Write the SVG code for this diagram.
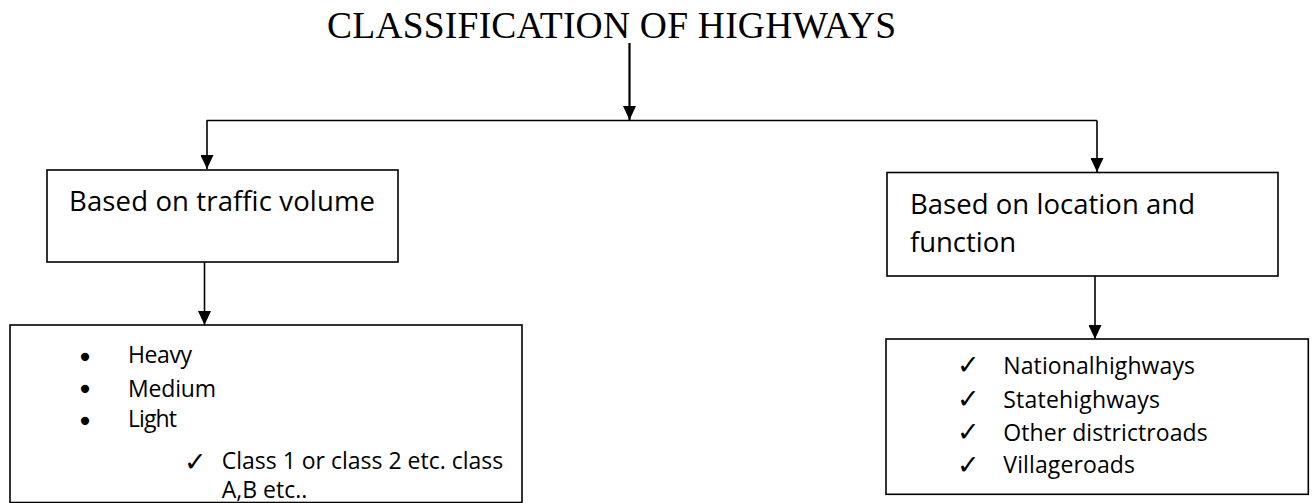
<svg xmlns="http://www.w3.org/2000/svg" width="1315" height="503" viewBox="0 0 1315 503">
<style>
.box{fill:#fff;stroke:#000;stroke-width:1.6}
.conn{fill:none;stroke:#000;stroke-width:1.6}
.title{font-family:"Liberation Serif","Times New Roman",serif;font-size:37.5px;fill:#000}
.head{font-family:"Open Sans","Noto Sans",sans-serif;font-size:27.5px;fill:#000}
.item{font-family:"Open Sans","Noto Sans",sans-serif;font-size:23px;fill:#000}
.chk{font-family:"DejaVu Sans",sans-serif;font-size:27px;fill:#000}
.bul{font-family:"DejaVu Sans",sans-serif;font-size:28px;fill:#000;text-anchor:middle}
</style>
<defs>
<marker id="ah" viewBox="0 0 15 14" refX="15" refY="7" markerWidth="15" markerHeight="13" markerUnits="userSpaceOnUse" orient="auto">
<path d="M0,0 L15,7 L0,14 z" fill="#000"/>
</marker>
</defs>
<rect width="1315" height="503" fill="#fff"/>
<g id="title">
<text class="title" x="327" y="38" textLength="569">CLASSIFICATION OF HIGHWAYS</text>
</g>
<g id="connectors">
<line class="conn" x1="629.5" y1="43" x2="629.5" y2="120" style="stroke-width:2.2" marker-end="url(#ah)"/>
<line class="conn" x1="206.5" y1="120.5" x2="1097" y2="120.5"/>
<line class="conn" x1="207" y1="120.5" x2="207" y2="169" marker-end="url(#ah)"/>
<line class="conn" x1="1097" y1="120.5" x2="1097" y2="172" marker-end="url(#ah)"/>
<line class="conn" x1="204.5" y1="262" x2="204.5" y2="325" marker-end="url(#ah)"/>
<line class="conn" x1="1095" y1="276" x2="1095" y2="339" marker-end="url(#ah)"/>
</g>
<g id="traffic">
<rect class="box" x="47" y="170" width="351" height="92"/>
<text class="head" x="69" y="210.7" textLength="306">Based on traffic volume</text>
</g>
<g id="location">
<rect class="box" x="887" y="172.5" width="391" height="103.5"/>
<text class="head" x="910" y="214" textLength="285">Based on location and</text>
<text class="head" x="910" y="251.7" textLength="106">function</text>
</g>
<g id="traffic-list">
<rect class="box" x="10" y="325" width="512" height="177.5"/>
<text class="bul" x="85" y="367">•</text>
<text class="bul" x="85" y="399">•</text>
<text class="bul" x="85" y="431">•</text>
<text class="item" x="128" y="363.3" textLength="64">Heavy</text>
<text class="item" x="128" y="397" textLength="88">Medium</text>
<text class="item" x="128" y="427.3" textLength="49">Light</text>
<text class="chk" x="184" y="471">✓</text>
<text class="item"><tspan x="221.7" y="468.5">Class 1 or class 2 etc. class</tspan><tspan x="221.7" y="497.5">A,B etc..</tspan></text>
</g>
<g id="location-list">
<rect class="box" x="886" y="339" width="422.3" height="155.3"/>
<text class="chk" x="957" y="374">✓</text>
<text class="chk" x="957" y="407.5">✓</text>
<text class="chk" x="957" y="440.5">✓</text>
<text class="chk" x="957" y="473.5">✓</text>
<text class="item" x="1003.3" y="374.3" textLength="191.7">Nationalhighways</text>
<text class="item" x="1003.3" y="407.7" textLength="156.7">Statehighways</text>
<text class="item" x="1003.3" y="440.5" textLength="204.3">Other districtroads</text>
<text class="item" x="1003.3" y="473.3" textLength="131.7">Villageroads</text>
</g>
</svg>
